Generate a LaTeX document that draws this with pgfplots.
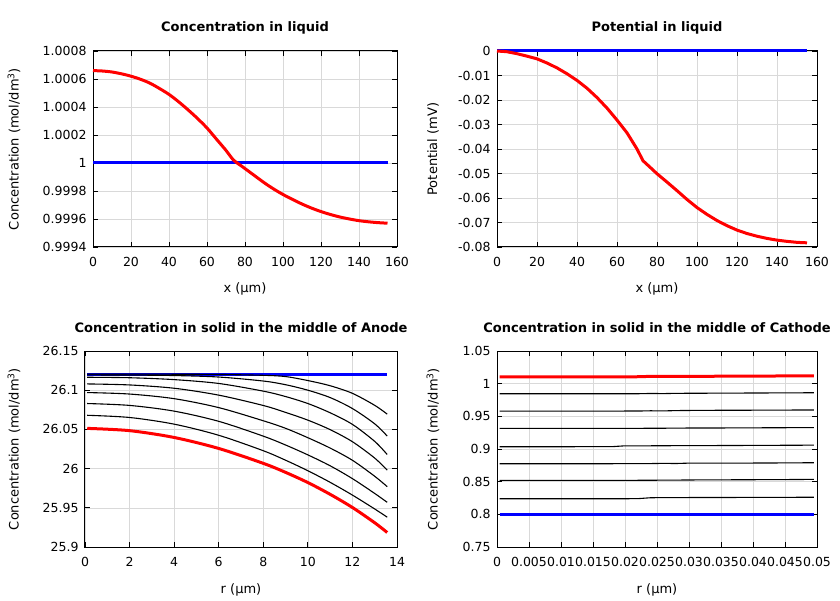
\documentclass[border=0pt]{standalone}
\usepackage{fontspec}
\setmainfont{DejaVu Sans}
\usepackage{pgfplots}
\pgfplotsset{compat=1.18}
\usepackage{pgfplotstable}

\definecolor{gpred}{RGB}{255,0,0}
\definecolor{gpblue}{RGB}{0,0,255}

\pgfplotstableread{
r     L1      L2      L3      L4      L5      L6      L7      R
0.1   26.1205 26.1195 26.1165 26.1080 26.0970 26.0830 26.0680 26.0513
2     26.1205 26.1193 26.1159 26.1067 26.0951 26.0806 26.0652 26.0484
4     26.1204 26.1187 26.1135 26.1025 26.0892 26.0733 26.0567 26.0397
6     26.1201 26.1168 26.1086 26.0937 26.0778 26.0603 26.0425 26.0257
8     26.1190 26.1117 26.0988 26.0805 26.0610 26.0414 26.0228 26.0067
9     26.1174 26.1070 26.0919 26.0717 26.0514 26.0301 26.0107 25.9952
10    26.1123 26.1000 26.0830 26.0618 26.0394 26.0175 25.9973 25.9822
11    26.1057 26.0906 26.0712 26.0497 26.0262 26.0036 25.9825 25.9672
12    26.0960 26.0766 26.0564 26.0343 26.0106 25.9872 25.9662 25.9504
13    26.0807 26.0571 26.0347 26.0134 25.9902 25.9683 25.9485 25.9309
13.56 26.0695 26.0415 26.0180 25.9980 25.9770 25.9570 25.9380 25.9185
}\anode

\pgfplotstableread{
r       R       L1      L2      L3      L4      L5      L6      L7
0.0004  1.0105  0.9845  0.9580  0.9315  0.9035  0.8775  0.8520  0.8238
0.010   1.0105  0.9845  0.9580  0.9315  0.9035  0.8775  0.8520  0.8238
0.018   1.0105  0.9845  0.9580  0.9315  0.9036  0.8775  0.8520  0.8238
0.020   1.0105  0.9845  0.9581  0.9315  0.9049  0.8776  0.8520  0.8239
0.022   1.0106  0.9846  0.9581  0.9316  0.9047  0.8776  0.8521  0.8240
0.024   1.0112  0.9850  0.9585  0.9318  0.9049  0.8777  0.8522  0.8254
0.026   1.0110  0.9848  0.9583  0.9318  0.9050  0.8780  0.8523  0.8256
0.028   1.0113  0.9852  0.9588  0.9320  0.9051  0.8778  0.8524  0.8255
0.030   1.0112  0.9853  0.9590  0.9321  0.9052  0.8784  0.8526  0.8257
0.035   1.0114  0.9855  0.9593  0.9322  0.9053  0.8784  0.8528  0.8258
0.040   1.0116  0.9857  0.9594  0.9324  0.9055  0.8785  0.8530  0.8259
0.045   1.0118  0.9859  0.9596  0.9326  0.9057  0.8787  0.8532  0.8260
0.0495  1.0120  0.9861  0.9597  0.9328  0.9059  0.8790  0.8535  0.8262
}\cathode

\pgfplotsset{
  gp/.style={
    scale only axis,
    tick align=inside,
    major tick length=5pt,
    grid=major,
    major grid style={draw=black!15, line width=0.6pt},
    axis line style={line width=1pt},
    every tick/.style={black, line width=0.8pt},
    tick label style={font=\fontsize{12.5}{14}\selectfont},
    xticklabel style={yshift=-7pt},
    yticklabel style={xshift=-3pt},
    label style={font=\fontsize{13}{15}\selectfont},
    every axis title shift=0pt,
    title style={font=\bfseries\fontsize{13}{15}\selectfont, at={(axis description cs:0.5,1.12)}, anchor=center},
    /pgf/number format/assume math mode=true,
    xlabel style={at={(axis description cs:0.5,-0.214)}, anchor=center},
    scaled ticks=false,
    clip=false,
  },
}

\begin{document}
\begin{tikzpicture}
\path[use as bounding box] (0,0) rectangle (840pt,600pt);

% Top left
\begin{axis}[gp, at={(93pt,353pt)}, anchor=south west, width=304pt, height=196pt,
  xmin=0, xmax=160, ymin=0.9994, ymax=1.0008,
  xtick={0,20,...,160},
  ytick={0.9994,0.9996,0.9998,1,1.0002,1.0004,1.0006,1.0008},
  yticklabels={0.9994,0.9996,0.9998,1,1.0002,1.0004,1.0006,1.0008},
  title={Concentration in liquid},
  xlabel={x (µm)},
  ylabel={Concentration (mol/dm\textsuperscript{3})},
  ylabel style={at={(axis description cs:-0.26,0.5)}, anchor=center},
]
\addplot[gpblue, line width=3pt] coordinates {(0,1) (155,1)};
\addplot[gpred, line width=3pt, smooth] coordinates {
(0,1.00066) (5,1.000657) (10,1.00065) (15,1.000637) (20,1.00062) (25,1.000598)
(30,1.00057) (35,1.000532) (40,1.00049) (45,1.000438) (50,1.00038) (55,1.000318)
(60,1.00025) (65,1.00017) (70,1.00009) (74,1.00002) (78,0.99998) (82,0.99994)
(86,0.99990) (90,0.99986) (95,0.999815) (100,0.999775) (105,0.99974) (110,0.999707)
(115,0.999678) (120,0.999653) (125,0.999632) (130,0.999614) (135,0.9996)
(140,0.999588) (145,0.99958) (150,0.999574) (155,0.99957)};
\end{axis}

% Top right
\begin{axis}[gp, at={(497pt,353pt)}, anchor=south west, width=320pt, height=196pt,
  xmin=0, xmax=160, ymin=-0.08, ymax=0,
  xtick={0,20,...,160},
  ytick={-0.08,-0.07,-0.06,-0.05,-0.04,-0.03,-0.02,-0.01,0},
  yticklabels={-0.08,-0.07,-0.06,-0.05,-0.04,-0.03,-0.02,-0.01,0},
  title={Potential in liquid},
  xlabel={x (µm)},
  ylabel={Potential (mV)},
  ylabel style={at={(axis description cs:-0.20,0.5)}, anchor=center},
]
\addplot[gpblue, line width=3pt] coordinates {(0,0) (155,0)};
\addplot[gpred, line width=3pt] coordinates {
(0,0) (5,-0.0003) (10,-0.0011) (15,-0.0021) (20,-0.0032) (25,-0.0049)
(30,-0.0069) (35,-0.0093) (40,-0.0120) (45,-0.0152) (50,-0.0190) (55,-0.0233)
(60,-0.0282) (65,-0.0334) (70,-0.0400) (73,-0.0448) (77,-0.0478) (80,-0.0501)
(85,-0.0535) (90,-0.0570) (95,-0.0606) (100,-0.0639) (105,-0.0667) (110,-0.0692)
(115,-0.0713) (120,-0.0731) (125,-0.0745) (130,-0.0756) (135,-0.0765)
(140,-0.0772) (145,-0.0777) (150,-0.0781) (155,-0.0783)};
\end{axis}

% Bottom left
\begin{axis}[gp, at={(85pt,53pt)}, anchor=south west, width=312pt, height=196pt,
  xmin=0, xmax=14, ymin=25.9, ymax=26.15,
  xtick={0,2,...,14},
  ytick={25.9,25.95,26,26.05,26.1,26.15},
  yticklabels={25.9,25.95,26,26.05,26.1,26.15},
  title={Concentration in solid in the middle of Anode},
  xlabel={r (µm)},
  xlabel style={at={(axis description cs:0.5,-0.219)}},
  ylabel={Concentration (mol/dm\textsuperscript{3})},
  ylabel style={at={(axis description cs:-0.2276,0.5)}, anchor=center},
]
\addplot[gpblue, line width=3pt] coordinates {(0.1,26.1205) (13.56,26.1205)};
\foreach \c in {L1,L2,L3,L4,L5,L6,L7}{
  \addplot[black, line width=1.1pt, smooth] table[x=r, y=\c] {\anode};
}
\addplot[gpred, line width=3pt, smooth] table[x=r, y=R] {\anode};
\end{axis}

% Bottom right
\begin{axis}[gp, at={(497pt,53pt)}, anchor=south west, width=320pt, height=196pt,
  xmin=0, xmax=0.05, ymin=0.75, ymax=1.05,
  xtick={0,0.005,...,0.0501},
  xticklabels={0,0.005,0.01,0.015,0.02,0.025,0.03,0.035,0.04,0.045,0.05},
  ytick={0.75,0.8,0.85,0.9,0.95,1,1.05},
  yticklabels={0.75,0.8,0.85,0.9,0.95,1,1.05},
  title={Concentration in solid in the middle of Cathode},
  xlabel={r (µm)},
  xlabel style={at={(axis description cs:0.5,-0.219)}},
  ylabel={Concentration (mol/dm\textsuperscript{3})},
  ylabel style={at={(axis description cs:-0.20,0.5)}, anchor=center},
]
\addplot[gpblue, line width=3pt] coordinates {(0.0004,0.8) (0.0495,0.8)};
\foreach \c in {L1,L2,L3,L4,L5,L6,L7}{
  \addplot[black, line width=1.1pt] table[x=r, y=\c] {\cathode};
}
\addplot[gpred, line width=3pt] table[x=r, y=R] {\cathode};
\end{axis}
\end{tikzpicture}
\end{document}
